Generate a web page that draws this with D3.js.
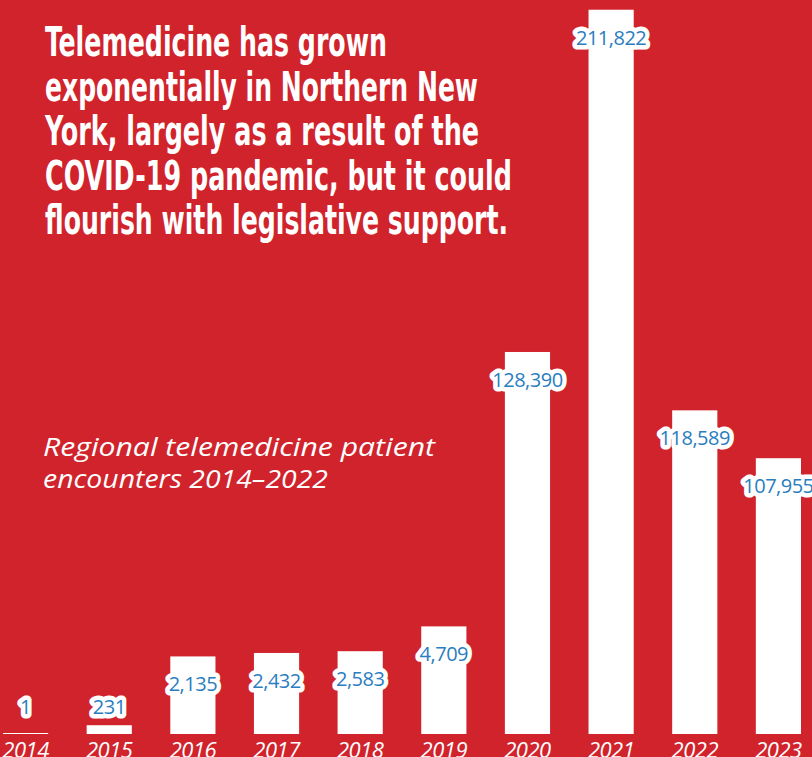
<!DOCTYPE html>
<html>
<head>
<meta charset="utf-8">
<script src="https://cdn.jsdelivr.net/npm/d3@7"></script>
<style>
  html, body { margin: 0; padding: 0; background: #d1232c; overflow: hidden; }
  svg { display: block; }
</style>
</head>
<body>
<div id="chart"></div>
<script>
// data
var years = ["2014", "2015", "2016", "2017", "2018", "2019", "2020", "2021", "2022", "2023"];
var encounters = [1, 231, 2135, 2432, 2583, 4709, 128390, 211822, 118589, 107955];

var titleLines = [
  "Telemedicine has grown",
  "exponentially in Northern New",
  "York, largely as a result of the",
  "COVID-19 pandemic, but it could",
  "flourish with legislative support."
];
var subtitleLines = [
  "Regional telemedicine patient",
  "encounters 2014\u20132022"
];

function Chart() {
  var width = 812;
  var height = 757;
  var baseline = 734;

  var svg = d3.select("#chart")
    .append("svg")
    .attr("width", width)
    .attr("height", height);

  svg.append("rect")
    .attr("width", width)
    .attr("height", height)
    .attr("fill", "#d1232c");

  // x: one band per year
  var x = d3.scaleBand()
    .domain(years)
    .range([3, 801])
    .paddingInner(0.46)
    .paddingOuter(0);

  // the original art uses a broken, non-linear value axis,
  // so the scale is piecewise linear
  var y = d3.scaleLinear()
    .domain([0, 2000, 5000, 100000, 120000, 130000, 212000])
    .range([baseline, baseline - 76, baseline - 111, baseline - 240, baseline - 330, baseline - 392, baseline - 725]);

  var rows = years.map(function(yr, i) { return { year: yr, value: encounters[i] }; });

  // bars
  svg.append("g")
    .selectAll("rect")
    .data(rows)
    .enter()
    .append("rect")
    .attr("x", d => x(d.year))
    .attr("width", x.bandwidth())
    .attr("y", d => Math.min(y(d.value), baseline - 1))
    .attr("height", d => Math.max(baseline - y(d.value), 1))
    .attr("fill", "#ffffff");

  // value labels with white halo
  var fmt = d3.format(",");
  svg.append("g")
    .selectAll("text")
    .data(rows)
    .enter()
    .append("text")
    .attr("x", d => x(d.year) + x.bandwidth() / 2)
    .attr("y", d => (baseline - y(d.value) < 30) ? baseline - 27 : y(d.value) + 28)
    .attr("dy", "0.35em")
    .attr("text-anchor", "middle")
    .attr("font-family", "'Open Sans', sans-serif")
    .attr("font-size", "20px")
    .attr("letter-spacing", "-0.5px")
    .attr("fill", "#2a7dbf")
    .attr("stroke", "#ffffff")
    .attr("stroke-width", 9)
    .attr("stroke-linejoin", "round")
    .attr("paint-order", "stroke")
    .text(d => fmt(d.value));

  // year labels
  svg.append("g")
    .selectAll("text")
    .data(years)
    .enter()
    .append("text")
    .attr("x", d => x(d) + x.bandwidth() / 2)
    .attr("y", 758)
    .attr("text-anchor", "middle")
    .attr("font-family", "'Open Sans', sans-serif")
    .attr("font-style", "italic")
    .attr("font-size", "22px")
    .attr("letter-spacing", "-0.5px")
    .attr("fill", "#ffffff")
    .text(d => d);

  // headline
  var titleWidths = [342, 433, 434, 467, 463];
  svg.append("g")
    .selectAll("text")
    .data(titleLines)
    .enter()
    .append("text")
    .attr("x", 45)
    .attr("y", (d, i) => 56 + i * 44.6)
    .attr("font-family", "'Liberation Sans Narrow', 'DejaVu Sans Condensed', sans-serif")
    .attr("font-weight", 700)
    .attr("font-size", "40px")
    .attr("textLength", (d, i) => titleWidths[i])
    .attr("lengthAdjust", "spacingAndGlyphs")
    .attr("fill", "#ffffff")
    .text(d => d);

  // subtitle
  var subWidths = [392, 285];
  svg.append("g")
    .selectAll("text")
    .data(subtitleLines)
    .enter()
    .append("text")
    .attr("x", 43)
    .attr("y", (d, i) => 456 + i * 32)
    .attr("font-family", "'Open Sans', sans-serif")
    .attr("font-style", "italic")
    .attr("font-size", "25px")
    .attr("textLength", (d, i) => subWidths[i])
    .attr("lengthAdjust", "spacingAndGlyphs")
    .attr("fill", "#ffffff")
    .text(d => d);
}

Chart();
</script>
</body>
</html>
